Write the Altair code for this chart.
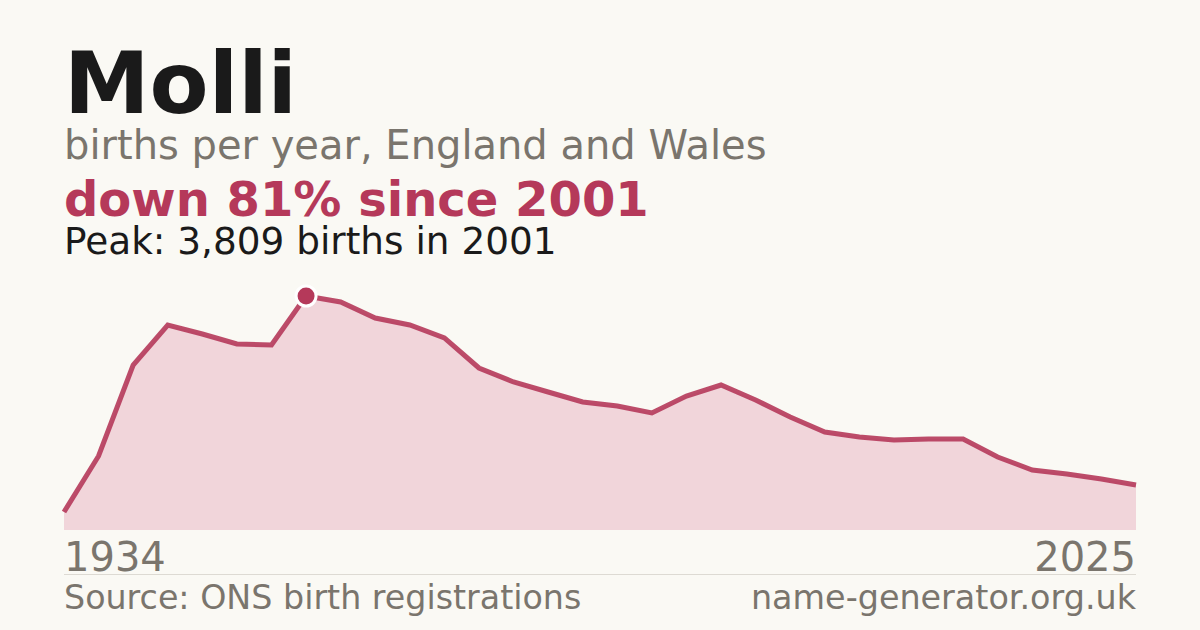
import altair as alt
import pandas as pd

# ---- data ----
index = list(range(32))
births = [293, 1205, 2686, 3337, 3190, 3028, 3012, 3809, 3712, 3451,
          3337, 3126, 2637, 2409, 2246, 2084, 2019, 1905, 2181, 2360,
          2116, 1840, 1595, 1514, 1465, 1481, 1481, 1188, 977, 912,
          830, 732]
year_labels = ["1934", "2025"]
title_text = "Molli"
subtitle_text = "births per year, England and Wales"
change_text = "down 81% since 2001"
peak_text = "Peak: 3,809 births in 2001"
source_text = "Source: ONS birth registrations"
site_text = "name-generator.org.uk"
peak_index = 7

BG = "#faf9f4"
RED = "#b5395a"
FILL = "#f1d5da"
GRAY = "#7a756d"
DARK = "#1a1a1a"
FONT = "DejaVu Sans"

df = pd.DataFrame({"i": index, "births": births})
peak_df = df[df["i"] == peak_index]

W, H = 1072, 234
x_scale = alt.Scale(domain=[0, 31], nice=False, zero=False)
y_scale = alt.Scale(domain=[0, 3809], nice=False)

base = alt.Chart(df)
area = base.mark_area(color=FILL, opacity=1).encode(
    x=alt.X("i:Q", scale=x_scale, axis=None),
    y=alt.Y("births:Q", scale=y_scale, axis=None),
)
line = base.mark_line(color=RED, strokeWidth=5, opacity=0.9, strokeJoin="miter").encode(
    x=alt.X("i:Q", scale=x_scale, axis=None),
    y=alt.Y("births:Q", scale=y_scale, axis=None),
)
peak = alt.Chart(peak_df).mark_point(
    shape="circle", filled=True, fill=RED, size=400, opacity=1,
    stroke="white", strokeWidth=3, strokeOpacity=1, fillOpacity=1
).encode(
    x=alt.X("i:Q", scale=x_scale, axis=None),
    y=alt.Y("births:Q", scale=y_scale, axis=None),
)

def text(t, x, y, size, color, weight="normal", align="left"):
    return alt.Chart(pd.DataFrame({"t": [t]})).mark_text(
        font=FONT, fontSize=size, fontWeight=weight, color=color,
        align=align, baseline="alphabetic",
    ).encode(x=alt.value(x), y=alt.value(y), text="t:N")

texts = [
    text(title_text, 0, -183, 86, DARK, "bold"),
    text(subtitle_text, 0, -137, 40, GRAY),
    text(change_text, 0, -80, 48, RED, "bold"),
    text(peak_text, 0, -42, 37.4, DARK),
    text(year_labels[0], 0, 275, 40, GRAY),
    text(year_labels[1], W, 275, 40, GRAY, align="right"),
    text(source_text, 0, 313, 33.3, GRAY),
    text(site_text, W, 313, 33.4, GRAY, align="right"),
]

rule = alt.Chart(pd.DataFrame({"a": [0]})).mark_rule(color="#dddad3", strokeWidth=1).encode(
    x=alt.value(0), x2=alt.value(W), y=alt.value(278.5)
)

chart = alt.layer(area, line, peak, rule, *texts).properties(
    width=W, height=H,
    padding={"left": 56, "top": 288, "right": 56, "bottom": 92},
    autosize=alt.AutoSizeParams(type="none"),
    background=BG,
).configure_view(stroke=None)

chart.save("out.html", embed_options={
    "renderer": "svg", "actions": False,
    "defaultStyle": "body{background:#faf9f4;}",
})
